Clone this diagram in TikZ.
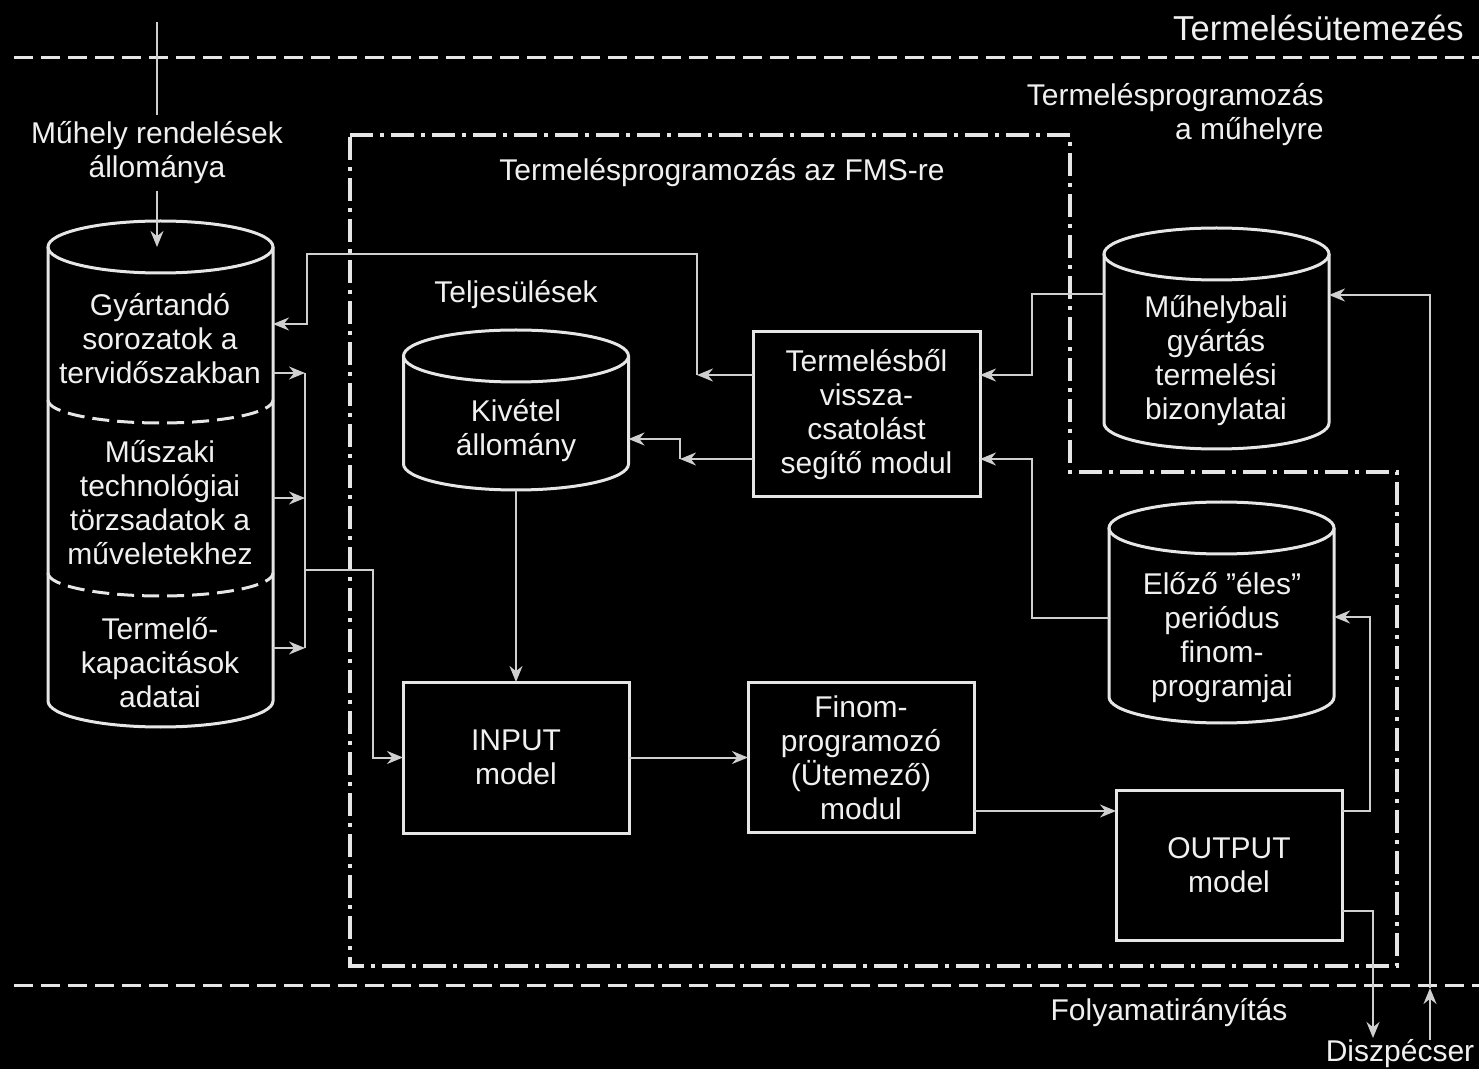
\documentclass[tikz,border=0pt]{standalone}
\usepackage{fontspec}
\setmainfont{Liberation Sans}
\usetikzlibrary{arrows.meta,positioning}
\definecolor{fgline}{HTML}{E6E6E6}
\definecolor{fgconn}{HTML}{CFCFCF}
\definecolor{fgtext}{HTML}{F0F0F0}
\newcommand{\cylrx}{56.25pt}
\newcommand{\cylry}{13pt}
\newcommand{\drawcyl}[1]{%
  \draw[cylline] (#1.north west) -- (#1.south west)
    arc[start angle=180, end angle=360, x radius=\cylrx, y radius=\cylry]
    -- (#1.north east);
  \draw[cylline] (#1.north) ellipse[x radius=\cylrx, y radius=\cylry]}
\tikzset{
  blk/.style      = {draw=fgline, line width=1.5pt, align=center, text=fgtext,
                     inner sep=0pt, outer sep=0pt, minimum width=113pt,
                     minimum height=75pt},
  dbbody/.style   = {inner sep=0pt, outer sep=0pt, minimum width=112.5pt},
  cylline/.style  = {draw=fgline, line width=1.5pt},
  txt/.style      = {text=fgtext, align=center, inner sep=1pt},
  lbl/.style      = {txt, fill=black, inner sep=3pt},
  flow/.style     = {-{Stealth[length=8pt,width=6.5pt]}, draw=fgconn,
                     line width=1pt},
  wire/.style     = {draw=fgconn, line width=1pt},
  sepdash/.style  = {draw=fgline, line width=1.5pt, dash pattern=on 8.5pt off 4pt},
  tierline/.style = {draw=fgline, line width=1.5pt, dash pattern=on 9.5pt off 4pt},
  fmsline/.style  = {draw=fgline, line width=2pt,
                     dash pattern=on 11.5pt off 3.5pt on 2pt off 3.5pt},
}
\begin{document}
\begin{tikzpicture}[x=0.5pt, y=-0.5pt, font=\fontsize{15}{17}\selectfont]

  \fill[black] (0,0) rectangle (1479,1069);
  \useasboundingbox (0,0) rectangle (1479,1069);

  % ---- levels ------------------------------------------------------------
  \node[txt, anchor=east, font=\fontsize{17.3}{20}\selectfont] (ttl) at (1466,28)
    {Termelésütemezés};
  \draw[tierline] (14,58) -- (1479,58);
  \draw[tierline] (14,985) -- (1479,985);
  \node[txt] (fol)  at (1169,1013) {Folyamatirányítás};
  \node[txt] (disp) at (1400,1054) {Diszpécser};

  % ---- FMS boundary ------------------------------------------------------
  \draw[fmsline] (350,135) -- (1070,135) -- (1070,472) -- (1397,472)
    -- (1397,966) -- (350,966) -- cycle;
  \node[txt] (fms) at (722,173) {Termelésprogramozás az FMS-re};
  \node[txt, anchor=east, align=right] (shop) at (1326,115)
    {Termelésprogramozás\\a műhelyre};
  \node[txt] (telj) at (516,295) {Teljesülések};

  % ---- stores ------------------------------------------------------------
  \node[dbbody, minimum height=227pt]  (gyart) at (160.5,474) {};
  \node[dbbody, minimum height=54pt]   (kiv)   at (516,410) {};
  \node[dbbody, minimum height=84.5pt] (muhb)  at (1216.5,338.5) {};
  \node[dbbody, minimum height=84.5pt] (elo)   at (1221.5,612.5) {};
  \drawcyl{gyart};
  \drawcyl{kiv};
  \drawcyl{muhb};
  \drawcyl{elo};
  \draw[sepdash] (gyart.west |- 0,400)
    arc[start angle=180, end angle=360, x radius=\cylrx, y radius=11.5pt];
  \draw[sepdash] (gyart.west |- 0,573)
    arc[start angle=180, end angle=360, x radius=\cylrx, y radius=11.5pt];

  \node[txt] (gyt1) at (160,339) {Gyártandó\\sorozatok a\\tervidőszakban};
  \node[txt] (gyt2) at (160,503)
    {Műszaki\\technológiai\\törzsadatok a\\műveletekhez};
  \node[txt] (gyt3) at (160,663) {Termelő-\\kapacitások\\adatai};
  \node[txt] (kivt)  at (516,431)  {Kivétel\\állomány};
  \node[txt] (muhbt) at (1216,361) {Műhelybali\\gyártás\\termelési\\bizonylatai};
  \node[txt] (elot)  at (1222,638) {Előző ”éles”\\periódus\\finom-\\programjai};

  % ---- modules -----------------------------------------------------------
  \node[blk, minimum width=113.5pt, minimum height=82.5pt] (mod) at (866.5,414.5)
    {Termelésből\\vissza-\\csatolást\\segítő modul};
  \node[blk, minimum height=75.5pt] (inp) at (516,757.5) {INPUT\\model};
  \node[blk] (fin) at (861,757.5) {Finom-\\programozó\\(Ütemező)\\modul};
  \node[blk] (out) at (1229,865) {OUTPUT\\model};

  % ---- connectors --------------------------------------------------------
  \coordinate (src) at (157,22);
  \node[lbl] (rend) at (157,153) {Műhely rendelések\\állománya};
  \draw[wire] (src) -- (rend);
  \draw[flow] (rend) -- (rend |- gyart.north);

  \coordinate (bus1) at (305,373);
  \coordinate (bus2) at (305,498);
  \coordinate (bus3) at (305,648);
  \coordinate (busout) at (305,570);
  \coordinate (bend) at (373,570);
  \draw[flow] (gyart.east |- bus1) -- (bus1);
  \draw[flow] (gyart.east |- bus2) -- (bus2);
  \draw[flow] (gyart.east |- bus3) -- (bus3);
  \draw[wire] (bus1) -- (bus3);
  \draw[flow] (busout) -- (bend) |- (inp.west);

  \draw[flow] ([yshift=-\cylry]kiv.south) -- (inp.north);
  \draw[flow] (inp.east) -- (fin.west);
  \draw[flow] (fin.east |- 0,811) -- (out.west |- 0,811);

  \draw[flow] (out.east |- 0,811) -| (1370,617) -- (elo.east |- 0,617);
  \coordinate (dispin) at (1373,1038);
  \draw[flow] (out.east |- 0,911) -| (dispin);

  \coordinate (dispup) at (1430,1040);
  \coordinate (cross) at (1430,988);
  \draw[flow] (dispup) -- (cross);
  \draw[flow] (cross) |- (muhb.east |- 0,295);

  \draw[flow] (muhb.west |- 0,294) -| (1032,375) -- (mod.east |- 0,375);
  \draw[flow] (elo.west |- 0,618) -| (1032,459) -- (mod.east |- 0,459);

  \coordinate (fbA) at (697,375);
  \draw[flow] (mod.west |- fbA) -- (fbA);
  \draw[flow] (fbA) |- (307,254) |- (gyart.east |- 0,324);

  \coordinate (fbB) at (680,459);
  \draw[flow] (mod.west |- fbB) -- (fbB);
  \draw[flow] (fbB) |- (kiv.east |- 0,439);

\end{tikzpicture}
\end{document}
